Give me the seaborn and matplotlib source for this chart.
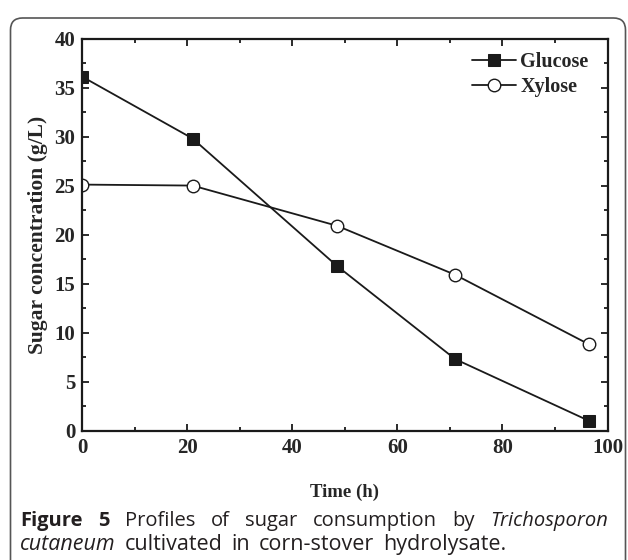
import matplotlib
matplotlib.use("Agg")
import matplotlib.pyplot as plt
from matplotlib.patches import FancyBboxPatch
from matplotlib.ticker import MultipleLocator
import pandas as pd
import seaborn as sns

# Data
time_h = [0, 21, 48.5, 71, 96.5]
glucose = [36.1, 29.8, 16.8, 7.3, 1.0]
xylose = [25.1, 25.0, 20.9, 15.9, 8.8]

x_label = "Time (h)"
y_label = "Sugar concentration (g/L)"

sns.set_theme(style="ticks")
plt.rcParams["font.family"] = ["Liberation Serif", "DejaVu Serif"]

df = pd.concat([
    pd.DataFrame({"time": time_h, "conc": glucose, "sugar": "Glucose"}),
    pd.DataFrame({"time": time_h, "conc": xylose, "sugar": "Xylose"}),
], ignore_index=True)

W, H, DPI = 628, 560, 100
fig = plt.figure(figsize=(W / DPI, H / DPI), dpi=DPI)
ax = fig.add_axes([82.3 / W, 1 - 430.7 / H, (607.5 - 82.3) / W, (430.7 - 38.5) / H])

line_col = "#1a1a1a"
sns.lineplot(data=df[df["sugar"] == "Glucose"], x="time", y="conc", ax=ax,
             color=line_col, lw=1.3, marker="s", markersize=8.5,
             markerfacecolor=line_col, markeredgecolor=line_col,
             label="Glucose")
sns.lineplot(data=df[df["sugar"] == "Xylose"], x="time", y="conc", ax=ax,
             color=line_col, lw=1.3, marker="o", markersize=9,
             markerfacecolor="white", markeredgecolor=line_col, markeredgewidth=1.0,
             label="Xylose")

ax.set_xlim(0, 100)
ax.set_ylim(0, 40)
ax.xaxis.set_major_locator(MultipleLocator(20))
ax.xaxis.set_minor_locator(MultipleLocator(10))
ax.yaxis.set_major_locator(MultipleLocator(5))
ax.yaxis.set_minor_locator(MultipleLocator(2.5))
ax.tick_params(which="both", direction="in", top=True, right=True,
               color=line_col, width=1.3)
ax.tick_params(which="major", length=5, labelsize=15, pad=5)
ax.tick_params(which="minor", length=3)
for lab in ax.get_xticklabels() + ax.get_yticklabels():
    lab.set_fontweight("bold")
for sp in ax.spines.values():
    sp.set_linewidth(1.6)
    sp.set_color(line_col)

ax.set_xlabel(x_label, fontsize=13.5, fontweight="bold", labelpad=19)
ax.set_ylabel(y_label, fontsize=15.5, fontweight="bold", labelpad=5)

leg = ax.legend(loc="upper right", bbox_to_anchor=(1 - 6 / 525, 1), frameon=False,
                prop={"size": 14.5, "weight": "bold"},
                handlelength=2.2, handletextpad=0.2, labelspacing=0.25,
                borderaxespad=0.25)

# rounded border box around the figure
box = FancyBboxPatch((0.105, -0.3), 6.15, 5.72,
                     boxstyle="round,pad=0,rounding_size=0.12",
                     transform=fig.dpi_scale_trans, fill=False,
                     edgecolor="#555555", lw=1.2)
fig.patches.append(box)

# caption, first line justified
cap_font = ["Open Sans", "DejaVu Sans"]
cap_size = 14.5
cap_col = "#231f20"
renderer = fig.canvas.get_renderer()
line1 = [("Figure", "bold", "normal"), ("5", "bold", "normal"),
         ("Profiles", "normal", "normal"), ("of", "normal", "normal"),
         ("sugar", "normal", "normal"), ("consumption", "normal", "normal"),
         ("by", "normal", "normal"), ("Trichosporon", "normal", "italic")]
x0, x1 = 20, 608
texts, widths = [], []
for word, wt, st in line1:
    t = fig.text(0, 0, word, family=cap_font, fontsize=cap_size, fontweight=wt,
                 fontstyle=st, color=cap_col, va="baseline", ha="left")
    texts.append(t)
    widths.append(t.get_window_extent(renderer).width)
gap = (x1 - x0 - sum(widths)) / (len(texts) - 1)
xpos = x0
for t, w in zip(texts, widths):
    t.set_position((xpos / W, 1 - 526 / H))
    xpos += w + gap

# second line: words spaced a little wider, as in the original
line2 = [("cutaneum", "italic"), ("cultivated", "normal"), ("in", "normal"),
         ("corn-stover", "normal"), ("hydrolysate.", "normal")]
xpos = x0
for word, st in line2:
    t = fig.text(xpos / W, 1 - 550 / H, word, family=cap_font, fontsize=cap_size + 1,
                 fontweight="normal", fontstyle=st, color=cap_col, va="baseline")
    xpos += t.get_window_extent(renderer).width + 9

fig.savefig("out.png", dpi=DPI)
